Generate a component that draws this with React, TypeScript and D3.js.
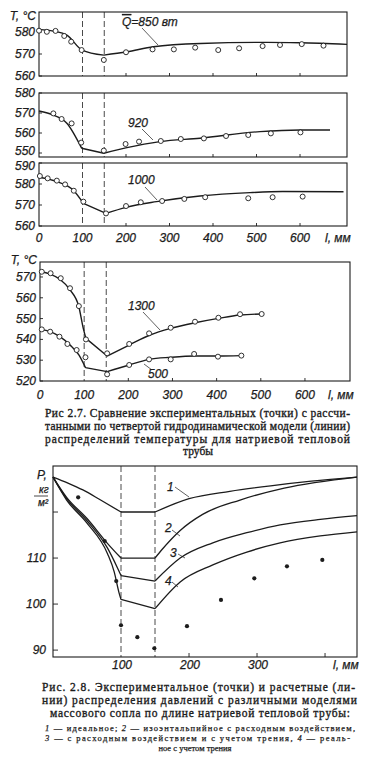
import * as d3 from 'd3'

// l, mm / T, °C  (fig 2.7) — lines are the model, pts the experiment
const q850Line: [number, number][] = [[0, 581.2], [33, 580.4], [64, 578.6], [99, 571.8], [149, 569.5], [202, 571], [263, 573.3], [371, 574.8], [524, 575.3], [600, 575.1], [708, 574.4]]
const q850Pts: [number, number][] = [[0, 580.6], [18, 580.1], [38, 580.5], [58, 578.2], [74, 575.6], [98, 571.8], [149, 567.3], [200, 570.8], [261, 572.1], [310, 572.1], [359, 572.9], [412, 571.8], [460, 572.6], [514, 573.6], [554, 574.1], [604, 574.5], [654, 573.8]]

const q920Line: [number, number][] = [[0, 571], [33, 569], [64, 564.9], [98, 552.4], [149, 549.9], [202, 552.7], [278, 555.7], [370, 557.4], [508, 560.7], [600, 561.5], [669, 561.5]]
const q920Pts: [number, number][] = [[33, 569.8], [52, 567], [75, 564.8], [97, 555.2], [149, 551.2], [199, 554.5], [230, 555.7], [280, 556], [326, 557], [379, 557.3], [430, 558.5], [481, 559], [533, 559.8], [601, 560.3]]

const q1000Line: [number, number][] = [[0, 583.2], [41, 581.1], [80, 576.8], [102, 570.8], [154, 566], [200, 568.9], [270, 571.6], [370, 574.3], [485, 575.9], [560, 576.4], [700, 576.3]]
const q1000Pts: [number, number][] = [[2, 583.8], [20, 582.7], [41, 581.6], [60, 579.8], [80, 576.8], [102, 571.6], [154, 566], [200, 569.5], [234, 571.3], [283, 571.9], [334, 572.9], [382, 573.7], [481, 573.2], [537, 573.7], [606, 574]]

const q1300Line: [number, number][] = [[0, 572.5], [23, 571.4], [45, 568.9], [68, 563.8], [88, 555.7], [98, 545.3], [104, 540.5], [152, 532], [202, 537.3], [249, 542.1], [296, 545.3], [351, 548], [404, 550.1], [453, 551.7], [502, 552.2]]
const q1300Pts: [number, number][] = [[4, 572.5], [24, 571.8], [47, 569.4], [68, 564.6], [88, 556], [104, 540], [152, 533.3], [202, 537.8], [247, 542.9], [296, 545.6], [351, 548.5], [404, 550.4], [453, 552.1], [502, 552.2]]

const q500Line: [number, number][] = [[0, 544.8], [23, 543.7], [45, 541.3], [68, 537.3], [88, 532.5], [103, 526.4], [152, 524.5], [202, 527.7], [247, 530.4], [296, 531.4], [351, 532], [404, 532], [454, 532.2]]
const q500Pts: [number, number][] = [[4, 544.8], [23, 543.7], [44, 541.3], [62, 537.8], [83, 534.9], [103, 531.4], [152, 523.2], [202, 527.7], [247, 530.4], [296, 530.4], [349, 533], [403, 531.7], [456, 532.2]]

// l, mm / P, kg/m2  (fig 2.8)
const pIdeal: [number, number][] = [[0, 127.6], [22, 126.3], [44, 124.8], [70, 122.6], [100, 120], [150, 120], [200, 122.9], [260, 124.5], [320, 125.7], [380, 126.7], [447, 127.6]]
const pIsenth: [number, number][] = [[0, 127.6], [20, 123.2], [50, 118.6], [80, 113.2], [100, 110], [150, 110], [160, 111.8], [187, 116], [220, 119.5], [275, 122.6], [340, 125.2], [447, 127.6]]
const pFriction: [number, number][] = [[0, 127.6], [20, 122.9], [50, 118.1], [80, 112.2], [95, 107.8], [100, 106.2], [150, 105], [187, 110], [235, 113.3], [285, 115.5], [334, 117.2], [393, 118.4], [447, 119.2]]
const pReal: [number, number][] = [[0, 127.6], [20, 122.6], [50, 117.6], [80, 111], [90, 107], [97, 102.5], [100, 101], [150, 99], [187, 104.8], [235, 108.5], [285, 111.3], [334, 113.3], [393, 114.8], [447, 115.7]]
const pExp: [number, number][] = [[37, 123.2], [76, 113.7], [93, 105], [100, 95.4], [124, 92.8], [149, 90.4], [197, 95.2], [247, 100.9], [296, 105.6], [344, 108.2], [396, 109.6]]

const lLabels = [0, 100, 200, 300, 400, 500, 600]
const lInner = [200, 300, 400, 500, 600]
const nozzle = [100, 150]
const tTicks1 = [580, 570, 560]
const tTicks2 = [580, 570, 560, 550]
const tTicks3 = [590, 580, 570, 560]
const tTicks4 = [570, 560, 550, 540, 530, 520]
const pTicks = [120, 110, 100, 90]
const pLabels = [110, 100, 90]
const lLabels28 = [100, 200, 300]
const lInner28 = [200, 300, 400]

const ink = '#1c1c1c'
const axisFont = "'Liberation Sans', Arial, sans-serif"
const capFont = "'Liberation Serif', 'DejaVu Serif', serif"

type Pt = [number, number]

function smooth(pts: Pt[], x: any, y: any, breaks: number[]) {
  const segs: Pt[][] = []
  let cur: Pt[] = []
  pts.forEach((p, i) => {
    cur.push(p)
    if (i > 0 && i < pts.length - 1 && breaks.includes(p[0])) {
      segs.push(cur)
      cur = [p]
    }
  })
  segs.push(cur)
  const gen = d3.line<Pt>().x((d) => x(d[0])).y((d) => y(d[1])).curve(d3.curveMonotoneX)
  return segs.map((s) => gen(s)).join('')
}

const axisText = { fontSize: 12, fontStyle: 'italic', fontFamily: axisFont, fill: ink, stroke: ink, strokeWidth: 0.25 }

function Panel({ top, bottom, left, right, lMax, yDom, yTicks, nudge = {}, series, xLabels, labelY, children }: any) {
  const x = d3.scaleLinear().domain([0, lMax]).range([left, right])
  const y = d3.scaleLinear().domain(yDom).range([bottom, top])
  return (
    <g>
      <rect x={left} y={top} width={right - left} height={bottom - top} fill="none" stroke={ink} strokeWidth={1.1} />
      {nozzle.map((v) => (
        <line key={v} x1={x(v)} x2={x(v)} y1={top} y2={bottom} stroke={ink} strokeWidth={0.8} strokeDasharray="6 3" />
      ))}
      {lInner.map((v) => (
        <line key={v} x1={x(v)} x2={x(v)} y1={bottom} y2={bottom - 3} stroke={ink} strokeWidth={0.9} />
      ))}
      {yTicks.map((v: number) => (
        <g key={v}>
          <line x1={left} x2={left + 3} y1={y(v)} y2={y(v)} stroke={ink} strokeWidth={0.9} />
          <text x={left - 4} y={y(v) + 4 + (nudge[v] || 0)} textAnchor="end" {...axisText}>{v}</text>
        </g>
      ))}
      {series.map((s: any, i: number) => (
        <g key={i}>
          <path d={smooth(s.line, x, y, s.breaks)} fill="none" stroke={ink} strokeWidth={1.4} />
          {s.pts.map((p: Pt, j: number) => (
            <circle key={j} cx={x(p[0])} cy={y(p[1])} r={2.5} fill="#fff" stroke={ink} strokeWidth={0.9} />
          ))}
        </g>
      ))}
      {xLabels && (
        <g {...axisText}>
          {lLabels.map((v) => (
            <text key={v} x={x(v)} y={labelY} textAnchor="middle">{v}</text>
          ))}
          <text x={right - 22} y={labelY}>l, мм</text>
        </g>
      )}
      {children && children(x, y)}
    </g>
  )
}

function Leader({ x1, y1, x2, y2 }: any) {
  return <line x1={x1} y1={y1} x2={x2} y2={y2} stroke={ink} strokeWidth={0.7} />
}

function Fig28() {
  const left = 53, right = 357, top = 466, bottom = 657
  const x = d3.scaleLinear().domain([0, 447]).range([left, right])
  const y = d3.scaleLinear().domain([88.5, 130]).range([bottom, top])
  const curves = [pIdeal, pIsenth, pFriction, pReal]
  return (
    <g>
      <rect x={left} y={top} width={right - left} height={bottom - top} fill="none" stroke={ink} strokeWidth={1.1} />
      {nozzle.map((v) => (
        <line key={v} x1={x(v)} x2={x(v)} y1={top} y2={bottom} stroke={ink} strokeWidth={0.8} strokeDasharray="6 3" />
      ))}
      {lInner28.map((v) => (
        <line key={v} x1={x(v)} x2={x(v)} y1={bottom} y2={bottom - 4} stroke={ink} strokeWidth={0.9} />
      ))}
      {pTicks.map((v) => (
        <line key={v} x1={left} x2={left + 5} y1={y(v)} y2={y(v)} stroke={ink} strokeWidth={0.9} />
      ))}
      <g {...axisText}>
        {pLabels.map((v) => (
          <text key={v} x={left - 7} y={y(v) + 4} textAnchor="end">{v}</text>
        ))}
        {lLabels28.map((v) => (
          <text key={v} x={x(v) + 1} y={669} textAnchor="middle">{v}</text>
        ))}
        <text x={333} y={669}>l, мм</text>
        <text x={37} y={479}>P,</text>
        <text x={39} y={493} fontSize={10}>кг</text>
        <line x1={34} x2={48} y1={496} y2={496} stroke={ink} strokeWidth={0.8} />
        <text x={38} y={506} fontSize={10}>м²</text>
      </g>
      {curves.map((c, i) => (
        <path key={i} d={smooth(c, x, y, [100, 150])} fill="none" stroke={ink} strokeWidth={1.3} />
      ))}
      {pExp.map((p, i) => (
        <circle key={i} cx={x(p[0])} cy={y(p[1])} r={2.1} fill={ink} />
      ))}
      <g {...axisText}>
        <text x={167} y={491}>1</text>
        <Leader x1={175} y1={487} x2={189} y2={497} />
        <text x={165} y={532}>2</text>
        <Leader x1={172} y1={530} x2={180} y2={536} />
        <text x={170} y={557}>3</text>
        <Leader x1={178} y1={554} x2={185} y2={558} />
        <text x={165} y={585}>4</text>
        <Leader x1={172} y1={582} x2={178} y2={587} />
      </g>
    </g>
  )
}

function Line({ y, x1, x2, children, size = 11.5 }: any) {
  return (
    <text x={x1} y={y} textLength={x2 - x1} lengthAdjust="spacing" fontSize={size} fontFamily={capFont}
      fill={ink} stroke={ink} strokeWidth={size > 10 ? 0.35 : 0.25}>
      {children}
    </text>
  )
}

export default function App() {
  const up = { left: 39, right: 347, lMax: 708 }
  return (
    <div style={{ position: 'absolute', left: 0, top: 0, background: '#fff' }}>
      <svg width={367} height={759} style={{ display: 'block' }}>
        <rect width={367} height={759} fill="#fff" />
        <g {...axisText}>
          <text x={36} y={20} textAnchor="end">T, °C</text>
          <text x={37} y={264} textAnchor="end">T, °C</text>
        </g>
        <Panel {...up} top={12} bottom={76} yDom={[560, 589.1]} yTicks={tTicks1}
          series={[{ line: q850Line, pts: q850Pts, breaks: [149] }]}>
          {() => (
            <g {...axisText}>
              <text x={122} y={26}>
                <tspan textDecoration="overline">Q</tspan>=850 вт
              </text>
              <Leader x1={142} y1={28} x2={158} y2={45} />
            </g>
          )}
        </Panel>
        <Panel {...up} top={93} bottom={157} yDom={[548, 580]} yTicks={tTicks2} nudge={{ 550: -2.5 }}
          series={[{ line: q920Line, pts: q920Pts, breaks: [98, 149] }]}>
          {() => (
            <g {...axisText}>
              <text x={128} y={127}>920</text>
              <Leader x1={142} y1={129} x2={153} y2={140} />
            </g>
          )}
        </Panel>
        <Panel {...up} top={163} bottom={226} yDom={[560, 590]} yTicks={tTicks3} nudge={{ 590: 2.5 }}
          series={[{ line: q1000Line, pts: q1000Pts, breaks: [102, 154] }]} xLabels labelY={242}>
          {() => (
            <g {...axisText}>
              <text x={128} y={184}>1000</text>
              <Leader x1={145} y1={187} x2={157} y2={200} />
            </g>
          )}
        </Panel>
        <Panel left={40} right={350} lMax={702} top={262} bottom={381} yDom={[520, 577.2]} yTicks={tTicks4}
          series={[
            { line: q1300Line, pts: q1300Pts, breaks: [104, 152] },
            { line: q500Line, pts: q500Pts, breaks: [103, 152] },
          ]} xLabels labelY={399}>
          {() => (
            <g {...axisText}>
              <text x={128} y={310}>1300</text>
              <Leader x1={143} y1={312} x2={160} y2={330} />
              <text x={148} y={378}>500</text>
              <Leader x1={144} y1={364} x2={152} y2={370} />
            </g>
          )}
        </Panel>

        <Line y={417} x1={45} x2={350}>Рис 2.7. Сравнение экспериментальных  (точки) с рассчи-</Line>
        <Line y={430} x1={45} x2={350}>танными по четвертой гидродинамической модели (линии)</Line>
        <Line y={443} x1={45} x2={350}>распределений  температуры  для  натриевой  тепловой</Line>
        <text x={198} y={455} textAnchor="middle" fontSize={11.5} fontFamily={capFont} fill={ink} stroke={ink} strokeWidth={0.35}>трубы</text>

        <Fig28 />

        <Line y={691} x1={42} x2={355}>Рис. 2.8. Экспериментальное (точки) и расчетные (ли-</Line>
        <Line y={704} x1={42} x2={357}>нии) распределения давлений с различными моделями</Line>
        <Line y={717} x1={50} x2={350}>массового сопла по длине натриевой тепловой трубы:</Line>
        <Line y={731} x1={45} x2={355} size={8.5}>
          <tspan fontStyle="italic">1</tspan> — идеальное; <tspan fontStyle="italic">2</tspan> — изоэнтальпийное с расходным воздействием,
        </Line>
        <Line y={741} x1={45} x2={350} size={8.5}>
          <tspan fontStyle="italic">3</tspan> — с расходным воздействием и с учетом трения,  <tspan fontStyle="italic">4</tspan> — реаль-
        </Line>
        <text x={195} y={751} textAnchor="middle" fontSize={8.5} fontFamily={capFont} fill={ink} stroke={ink} strokeWidth={0.25}>ное с учетом трения</text>
      </svg>
    </div>
  )
}
